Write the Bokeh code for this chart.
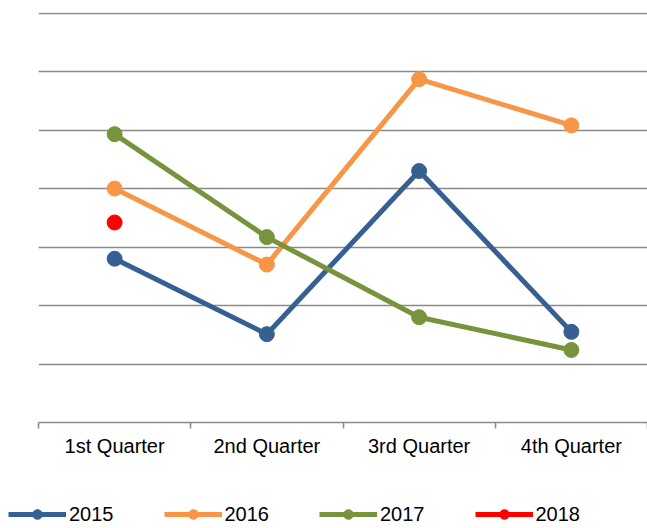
from bokeh.plotting import figure
from bokeh.layouts import column
from bokeh.models import Range1d, FixedTicker, LinearAxis, Grid, Legend, LegendItem
from bokeh.embed import file_html
from bokeh.resources import INLINE

quarters = ["1st Quarter", "2nd Quarter", "3rd Quarter", "4th Quarter"]
series_names = ["2015", "2016", "2017", "2018"]
values_2015 = [2.80, 1.51, 4.30, 1.55]
values_2016 = [4.00, 2.70, 5.87, 5.08]
values_2017 = [4.93, 3.17, 1.80, 1.24]
values_2018 = [3.42]
colors = ["#376092", "#F79646", "#77933C", "#FF0000"]
y_gridlines = [1, 2, 3, 4, 5, 6, 7]

all_values = [values_2015, values_2016, values_2017, values_2018]

FONT = "Liberation Sans"
GRID = "#8a8a8a"
W = 647
H1 = 490
H2 = 38

p = figure(width=W, height=H1, output_backend="svg", toolbar_location=None,
           x_range=Range1d(0, len(quarters)), y_range=Range1d(0, 7.01),
           x_axis_location=None, y_axis_location=None,
           min_border_left=38, min_border_right=0, min_border_top=12,
           min_border_bottom=H1 - 422)
p.outline_line_color = None
p.frame_align = False
for g in p.grid:
    g.visible = False

centers = [i + 0.5 for i in range(len(quarters))]
bounds = [float(i) for i in range(len(quarters) + 1)]

xaxis = LinearAxis(ticker=FixedTicker(ticks=centers, minor_ticks=bounds))
xaxis.major_label_overrides = {c: q for c, q in zip(centers, quarters)}
xaxis.axis_line_color = GRID
xaxis.axis_line_width = 1.6
xaxis.major_tick_line_color = None
xaxis.major_tick_out = 0
xaxis.major_tick_in = 0
xaxis.minor_tick_line_color = GRID
xaxis.minor_tick_line_width = 1.6
xaxis.minor_tick_out = 6
xaxis.minor_tick_in = 0
xaxis.major_label_standoff = 6
xaxis.major_label_text_font = FONT
xaxis.major_label_text_font_size = "20px"
xaxis.major_label_text_color = "#000000"
p.add_layout(xaxis, "below")

ygrid = Grid(dimension=1, ticker=FixedTicker(ticks=y_gridlines),
             grid_line_color=GRID, grid_line_width=1.6)
p.add_layout(ygrid)

for vals, col in zip(all_values, colors):
    xs = centers[:len(vals)]
    p.line(xs, vals, line_color=col, line_width=5, line_join="round")
    p.scatter(xs, vals, size=15, fill_color=col, line_color=col, marker="circle")

# legend strip: same series drawn in a second figure whose y-range lies beyond the data
pl = figure(width=W, height=H2, output_backend="svg", toolbar_location=None,
            x_range=Range1d(0, len(quarters)), y_range=Range1d(100, 101),
            x_axis_location=None, y_axis_location=None,
            min_border_left=0, min_border_right=0, min_border_top=0,
            min_border_bottom=0)
pl.outline_line_color = None
pl.frame_align = False
for g in pl.grid:
    g.visible = False

items = []
for name, vals, col in zip(series_names, all_values, colors):
    xs = centers[:len(vals)]
    r1 = pl.line(xs, vals, line_color=col, line_width=5)
    r2 = pl.scatter(xs, vals, size=11, fill_color=col, line_color=col, marker="circle")
    items.append(LegendItem(label=name, renderers=[r1, r2]))

legend = Legend(items=items, orientation="horizontal", location=(8, 2),
                glyph_width=58, glyph_height=24, label_height=24,
                label_standoff=3, spacing=50, padding=0, margin=0,
                border_line_color=None, background_fill_alpha=0,
                label_text_font=FONT, label_text_font_size="20px",
                label_text_color="#000000")
pl.add_layout(legend)

layout = column(p, pl, spacing=0)
open("out.html", "w").write(file_html(layout, INLINE))
